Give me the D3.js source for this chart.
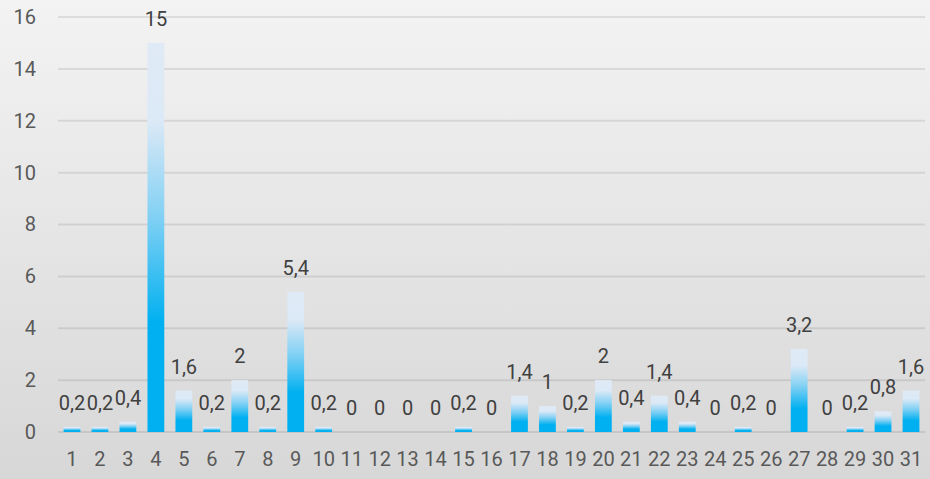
<!DOCTYPE html>
<html>
<head>
<meta charset="utf-8">
<script src="https://cdn.jsdelivr.net/npm/d3@7"></script>
<style>
html,body{margin:0;padding:0;}
svg{display:block;}
</style>
</head>
<body>
<svg id="chart" width="930" height="479"></svg>
<script>
const categories = ["1","2","3","4","5","6","7","8","9","10","11","12","13","14","15","16","17","18","19","20","21","22","23","24","25","26","27","28","29","30","31"];
const values = [0.2,0.2,0.4,15,1.6,0.2,2,0.2,5.4,0.2,0,0,0,0,0.2,0,1.4,1,0.2,2,0.4,1.4,0.4,0,0.2,0,3.2,0,0.2,0.8,1.6];
const yTicks = [0,2,4,6,8,10,12,14,16];

const W = 930, H = 479;
const svg = d3.select("#chart");
const defs = svg.append("defs");

const bg = defs.append("linearGradient").attr("id","bg").attr("x1",0).attr("y1",0).attr("x2",0).attr("y2",1);
bg.append("stop").attr("offset","0%").attr("stop-color","#f3f3f3");
bg.append("stop").attr("offset","100%").attr("stop-color","#d7d7d7");

const bar = defs.append("linearGradient").attr("id","bar").attr("x1",0).attr("y1",0).attr("x2",0).attr("y2",1);
[[0,"#dfeaf6"],[0.2,"#dce9f6"],[0.45,"#80d0f4"],[0.72,"#00b0f0"],[1,"#00b0f0"]].forEach(([o,c])=>{
  bar.append("stop").attr("offset",o).attr("stop-color",c);
});

svg.append("rect").attr("width",W).attr("height",H).attr("fill","url(#bg)");

const x = d3.scaleBand().domain(categories).range([58,925]).paddingInner(0.4).paddingOuter(0.2);
const y = d3.scaleLinear().domain([0,16]).range([432,17]);

const font = "Roboto, 'Open Sans', sans-serif";

// gridlines
svg.append("g").selectAll("line").data(yTicks).join("line")
  .attr("x1",58).attr("x2",925)
  .attr("y1",d=>y(d)).attr("y2",d=>y(d))
  .attr("stroke","#000").attr("stroke-opacity",0.09).attr("stroke-width",2);

// y axis
const yAxis = svg.append("g").attr("transform","translate(36,0)")
  .call(d3.axisLeft(y).tickValues(yTicks).tickSize(0).tickPadding(0).tickFormat(d=>String(d)));
yAxis.select(".domain").remove();
yAxis.selectAll("text").attr("font-family",font).attr("font-size",20).attr("fill","#595959");

// x axis
const xAxis = svg.append("g").attr("transform","translate(0,452)")
  .call(d3.axisBottom(x).tickSize(0).tickPadding(0));
xAxis.select(".domain").remove();
xAxis.selectAll("text").attr("font-family",font).attr("font-size",20).attr("fill","#595959").attr("dy","0.71em");

const data = categories.map((c,i)=>({c, v: values[i]}));

// bars
svg.append("g").selectAll("rect").data(data.filter(d=>d.v>0)).join("rect")
  .attr("x",d=>x(d.c)).attr("width",x.bandwidth())
  .attr("y",d=>y(d.v)).attr("height",d=>y(0)-y(d.v))
  .attr("fill","url(#bar)");

// value labels
svg.append("g").selectAll("text").data(data).join("text")
  .attr("x",d=>x(d.c)+x.bandwidth()/2)
  .attr("y",d=>y(d.v)-24)
  .attr("dy","0.35em")
  .attr("text-anchor","middle")
  .attr("font-family",font).attr("font-size",20).attr("fill","#404040")
  .text(d=>String(d.v).replace(".",","));
</script>
</body>
</html>
